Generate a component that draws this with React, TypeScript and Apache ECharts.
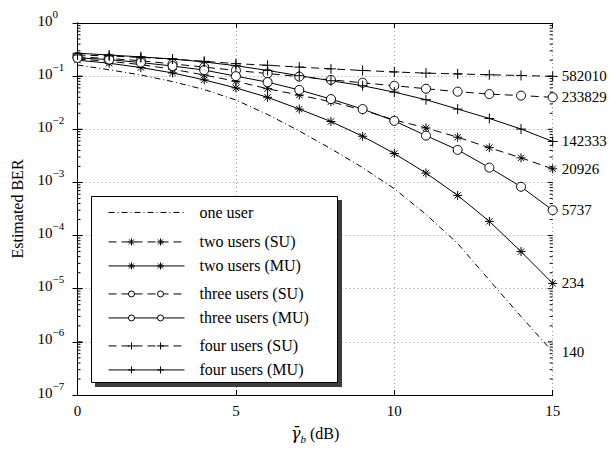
import React, { useEffect, useRef } from 'react';
import * as echarts from 'echarts';

// ---- data ----
const snrDb = [0, 1, 2, 3, 4, 5, 6, 7, 8, 9, 10, 11, 12, 13, 14, 15];
const berOneUser = [0.162, 0.132, 0.105, 0.079, 0.056, 0.0355, 0.019, 0.0093, 0.0043, 0.0019, 7.6e-4, 2.5e-4, 7.1e-5, 1.45e-5, 3.0e-6, 6.5e-7];
const berTwoSU = [0.21, 0.19, 0.165, 0.135, 0.105, 0.08, 0.058, 0.044, 0.033, 0.023, 0.015, 0.0106, 0.0071, 0.0045, 0.0029, 0.0018];
const berTwoMU = [0.2, 0.175, 0.145, 0.115, 0.085, 0.06, 0.04, 0.024, 0.014, 0.0074, 0.0035, 0.0015, 5.7e-4, 1.85e-4, 5.0e-5, 1.26e-5];
const berThreeSU = [0.23, 0.215, 0.195, 0.17, 0.148, 0.128, 0.112, 0.098, 0.085, 0.075, 0.066, 0.058, 0.051, 0.046, 0.043, 0.04];
const berThreeMU = [0.22, 0.205, 0.18, 0.155, 0.13, 0.1, 0.077, 0.055, 0.037, 0.024, 0.0144, 0.0076, 0.0041, 0.0019, 8.3e-4, 3.0e-4];
const berFourSU = [0.25, 0.24, 0.225, 0.21, 0.19, 0.172, 0.16, 0.148, 0.137, 0.128, 0.12, 0.114, 0.11, 0.106, 0.103, 0.099];
const berFourMU = [0.27, 0.25, 0.23, 0.21, 0.185, 0.157, 0.128, 0.102, 0.082, 0.066, 0.05, 0.036, 0.024, 0.016, 0.0101, 0.0059];

const countOneUser = '140';
const countTwoSU = '20926';
const countTwoMU = '234';
const countThreeSU = '233829';
const countThreeMU = '5737';
const countFourSU = '582010';
const countFourMU = '142333';

const xTicks = [0, 5, 10, 15];
const yMin = 1e-7;
const yMax = 1;
const minorMantissas = [2, 3, 4, 5, 6, 7, 8, 9];
const decadeExponents = [-7, -6, -5, -4, -3, -2, -1];

const FONT = "'Liberation Serif', 'Times New Roman', serif";
const PLUS = 'path://M0,5L10,5M5,0L5,10';
const STAR = 'path://M0,5L10,5M5,0L5,10M1.5,1.5L8.5,8.5M1.5,8.5L8.5,1.5';
const DASH: number[] = [8, 5];
const DASHDOT: number[] = [6, 3, 1, 3];

// ---- legend icon drawing (decoration only) ----
const ICON_W = 76;
const ICON_H = 14;
function dashedSegments(pattern: number[] | null): number[][] {
  if (!pattern) return [[0, ICON_W]];
  const segs: number[][] = [];
  let x = 0;
  let k = 0;
  while (x < ICON_W) {
    const len = pattern[k % pattern.length];
    if (k % 2 === 0) segs.push([x, Math.min(ICON_W, x + len)]);
    x += len;
    k++;
  }
  return segs;
}
function legendIcon(pattern: number[] | null, marker: string): string {
  const cy = ICON_H / 2;
  const marks = marker === 'none' ? [] : [23, 52];
  let segs = dashedSegments(pattern);
  if (marker === 'circle') {
    const r = 3;
    marks.forEach((m) => {
      const out: number[][] = [];
      segs.forEach(([a, b]) => {
        if (b <= m - r || a >= m + r) out.push([a, b]);
        else {
          if (a < m - r) out.push([a, m - r]);
          if (b > m + r) out.push([m + r, b]);
        }
      });
      segs = out;
    });
  }
  let d = `M0,0L0,0M${ICON_W},${ICON_H}L${ICON_W},${ICON_H}`;
  segs.forEach(([a, b]) => {
    d += `M${a},${cy}L${b},${cy}`;
  });
  marks.forEach((m) => {
    if (marker === 'circle') {
      const r = 3;
      d += `M${m + r},${cy}A${r},${r} 0 1 1 ${m - r},${cy}A${r},${r} 0 1 1 ${m + r},${cy}`;
    } else if (marker === 'plus') {
      d += `M${m - 3.5},${cy}L${m + 3.5},${cy}M${m},${cy - 3.5}L${m},${cy + 3.5}`;
    } else if (marker === 'star') {
      d += `M${m - 3.5},${cy}L${m + 3.5},${cy}M${m},${cy - 3.5}L${m},${cy + 3.5}M${m - 2.5},${cy - 2.5}L${m + 2.5},${cy + 2.5}M${m - 2.5},${cy + 2.5}L${m + 2.5},${cy - 2.5}`;
    }
  });
  return 'path://' + d;
}

function lineSeries(name: string, values: number[], count: string, dash: any, symbol: string, size: number) {
  return {
    name,
    type: 'line',
    data: snrDb.map((x, i) => [x, values[i]]),
    showSymbol: symbol !== 'none',
    showAllSymbol: true,
    symbol,
    symbolSize: size,
    lineStyle: { color: '#000', width: 1, type: dash },
    itemStyle: { color: symbol === 'circle' ? '#fff' : 'none', borderColor: '#000', borderWidth: 1 },
    endLabel: {
      show: true,
      formatter: () => count,
      distance: 9,
      color: '#000',
      fontSize: 15,
      fontFamily: FONT,
    },
    z: 3,
  };
}

export default function App() {
  const ref = useRef<HTMLDivElement>(null);
  useEffect(() => {
    document.body.style.margin = '0';
    const chart = echarts.init(ref.current!, null, { renderer: 'svg' });
    const minorTicks: number[][] = [];
    decadeExponents.forEach((e) => minorMantissas.forEach((m) => minorTicks.push([0, m * Math.pow(10, e), 3])));
    for (let e = -6; e <= -1; e++) minorTicks.push([0, Math.pow(10, e), 5]);

    const legendText = { fontSize: 16, fontFamily: FONT, color: '#000', padding: [0, 0, 0, 10] };
    const iconStyle = { color: 'none', borderColor: '#000', borderWidth: 1 };
    const item = (name: string, pattern: number[] | null, marker: string) => ({
      name,
      icon: legendIcon(pattern, marker),
      itemStyle: iconStyle,
    });
    const ROW = 22.5;
    const EFF_H = 17.5;
    const legendBase = {
      orient: 'vertical',
      left: 106,
      itemWidth: ICON_W,
      itemHeight: ICON_H,
      itemGap: ROW - EFF_H,
      padding: 0,
      selectedMode: false,
      symbolKeepAspect: true,
      textStyle: legendText,
      z: 8,
    };
    const topFor = (center: number) => center - EFF_H / 2;

    chart.setOption({
      animation: false,
      backgroundColor: '#fff',
      grid: { left: 77.5, right: 57.3, top: 23, bottom: 53, containLabel: false },
      xAxis: [
        {
          type: 'value',
          position: 'bottom',
          min: xTicks[0],
          max: xTicks[xTicks.length - 1],
          interval: 5,
          axisLine: { show: true, lineStyle: { color: '#000', width: 1 } },
          axisTick: { show: true, inside: true, length: 5, lineStyle: { color: '#000' } },
          axisLabel: { color: '#000', fontSize: 15, fontFamily: FONT, margin: 8 },
          splitLine: { show: true, lineStyle: { color: '#999', type: [1, 3], width: 1 } },
          name: '{g|γ̄}{s|b}{t| (dB)}',
          nameLocation: 'middle',
          nameGap: 30,
          nameTextStyle: {
            rich: {
              g: { fontSize: 16, fontFamily: "'DejaVu Serif', serif", fontStyle: 'italic', color: '#000', verticalAlign: 'top' },
              s: { fontSize: 11, fontFamily: FONT, fontStyle: 'italic', color: '#000', verticalAlign: 'bottom', padding: [8, 0, 0, 0] },
              t: { fontSize: 16, fontFamily: FONT, color: '#000', verticalAlign: 'top' },
            },
          },
        },
        {
          type: 'value',
          position: 'top',
          min: xTicks[0],
          max: xTicks[xTicks.length - 1],
          interval: 5,
          axisLine: { show: true, lineStyle: { color: '#000', width: 1 } },
          axisTick: { show: true, inside: true, length: 5, lineStyle: { color: '#000' } },
          axisLabel: { show: false },
          splitLine: { show: false },
        },
      ],
      yAxis: [
        {
          type: 'log',
          logBase: 10,
          position: 'left',
          min: yMin,
          max: yMax,
          axisLine: { show: true, lineStyle: { color: '#000', width: 1 } },
          axisTick: { show: true, inside: true, length: 5, lineStyle: { color: '#000' } },
          axisLabel: {
            align: 'left',
            margin: 40,
            padding: [0, 0, 10, 0],
            formatter: (v: number) => {
              const e = Math.round(Math.log10(v));
              return '{b|10}{s|' + (e < 0 ? '−' + -e : String(e)) + '}';
            },
            rich: {
              b: { fontSize: 15, fontFamily: FONT, color: '#000', verticalAlign: 'bottom', padding: [5, 0, 0, 0] },
              s: { fontSize: 11, fontFamily: FONT, color: '#000', verticalAlign: 'top' },
            },
          },
          splitLine: { show: true, lineStyle: { color: '#999', type: [1, 3], width: 1 } },
          name: 'Estimated BER',
          nameLocation: 'middle',
          nameGap: 52,
          nameTextStyle: { fontSize: 16, fontFamily: FONT, color: '#000' },
        },
        {
          type: 'log',
          logBase: 10,
          position: 'right',
          min: yMin,
          max: yMax,
          axisLine: { show: true, lineStyle: { color: '#000', width: 1 } },
          axisTick: { show: true, inside: true, length: 5, lineStyle: { color: '#000' } },
          axisLabel: { show: false },
          splitLine: { show: false },
        },
      ],
      legend: [
        { ...legendBase, top: topFor(211.7), data: [item('one user', DASHDOT, 'none')] },
        {
          ...legendBase,
          top: topFor(241.2),
          data: [item('two users (SU)', DASH, 'star'), item('two users (MU)', null, 'star')],
        },
        {
          ...legendBase,
          top: topFor(293.2),
          data: [item('three users (SU)', DASH, 'circle'), item('three users (MU)', null, 'circle')],
        },
        {
          ...legendBase,
          top: topFor(345.2),
          data: [item('four users (SU)', DASH, 'plus'), item('four users (MU)', null, 'plus')],
        },
      ],
      graphic: [
        { type: 'rect', z: 6, shape: { x: 95, y: 200, width: 247, height: 187 }, style: { fill: '#3c3c3c' } },
        { type: 'rect', z: 7, shape: { x: 91.5, y: 196.5, width: 246, height: 186 }, style: { fill: '#fff', stroke: '#000', lineWidth: 1 } },
      ],
      series: [
        {
          type: 'custom',
          name: 'minorTicks',
          silent: true,
          data: minorTicks,
          z: 1,
          renderItem: (params: any, api: any) => {
            const v = api.value(1);
            const len = api.value(2);
            const l = api.coord([xTicks[0], v]);
            const r = api.coord([xTicks[xTicks.length - 1], v]);
            return {
              type: 'group',
              children: [
                { type: 'line', shape: { x1: l[0], y1: l[1], x2: l[0] + len, y2: l[1] }, style: { stroke: '#000', lineWidth: 1 } },
                { type: 'line', shape: { x1: r[0] - len, y1: r[1], x2: r[0], y2: r[1] }, style: { stroke: '#000', lineWidth: 1 } },
              ],
            };
          },
        },
        lineSeries('one user', berOneUser, countOneUser, DASHDOT, 'none', 0),
        lineSeries('two users (SU)', berTwoSU, countTwoSU, DASH, STAR, 9),
        lineSeries('two users (MU)', berTwoMU, countTwoMU, 'solid', STAR, 9),
        lineSeries('three users (SU)', berThreeSU, countThreeSU, DASH, 'circle', 9),
        lineSeries('three users (MU)', berThreeMU, countThreeMU, 'solid', 'circle', 9),
        lineSeries('four users (SU)', berFourSU, countFourSU, DASH, PLUS, 10),
        lineSeries('four users (MU)', berFourMU, countFourMU, 'solid', PLUS, 10),
      ],
    });
    return () => chart.dispose();
  }, []);
  return <div ref={ref} style={{ width: 610, height: 449 }} />;
}
